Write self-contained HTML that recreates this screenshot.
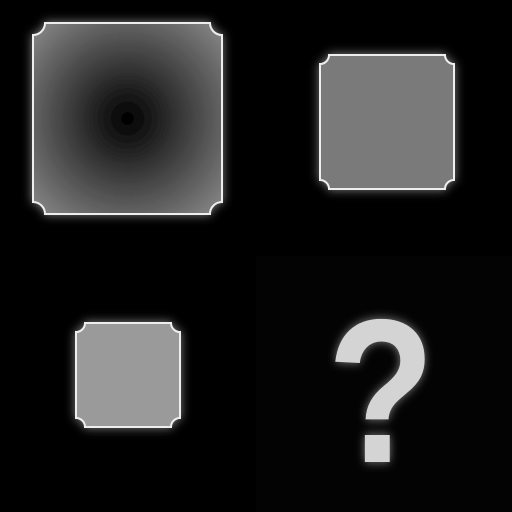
<!DOCTYPE html>
<html><head><style>
html,body{margin:0;padding:0;background:#000;width:512px;height:512px;overflow:hidden}
</style></head><body>
<svg width="512" height="512" viewBox="0 0 512 512">
<defs>
<radialGradient id="rg" cx="0.5" cy="0.5" r="0.7">
<stop offset="0" stop-color="#000"/><stop offset="1" stop-color="#8a8a8a"/>
</radialGradient>
<filter id="glow" x="-30%" y="-30%" width="160%" height="160%">
<feGaussianBlur in="SourceAlpha" stdDeviation="5" result="b"/>
<feFlood flood-color="#fff" flood-opacity="0.5"/>
<feComposite in2="b" operator="in" result="g"/>
<feMerge><feMergeNode in="g"/><feMergeNode in="SourceGraphic"/></feMerge>
</filter>
</defs>
<rect x="256" y="256" width="256" height="256" fill="#030303"/>
<g id="shapes"></g>
<g transform="translate(381,0) scale(0.86,1)">
<text x="0" y="462" text-anchor="middle" font-family="Liberation Sans, sans-serif" font-weight="bold" font-size="205" fill="#d4d4d4" filter="url(#glow)">?</text>
</g>
</svg>
<script>
const g=document.getElementById('shapes');
function notched(x,y,w,h,r){
 return `M${x+r},${y} H${x+w-r} A${r},${r} 0 0 0 ${x+w},${y+r} V${y+h-r} A${r},${r} 0 0 0 ${x+w-r},${y+h} H${x+r} A${r},${r} 0 0 0 ${x},${y+h-r} V${y+r} A${r},${r} 0 0 0 ${x+r},${y} Z`;
}
const items=[[33,23,189,191,12,'url(#rg)','large-square'],[320,55,134,134,9,'#7a7a7a','medium-square'],[76,323,104,104,9,'#9a9a9a','small-square']];
for(const it of items){
 const p=document.createElementNS('http://www.w3.org/2000/svg','path');
 p.setAttribute('d',notched(it[0],it[1],it[2],it[3],it[4]));
 p.setAttribute('fill',it[5]);
 p.setAttribute('stroke','#eee');
 p.setAttribute('stroke-width','2');
 p.setAttribute('filter','url(#glow)');
 
 
 g.appendChild(p);
}
</script>
</body></html>
